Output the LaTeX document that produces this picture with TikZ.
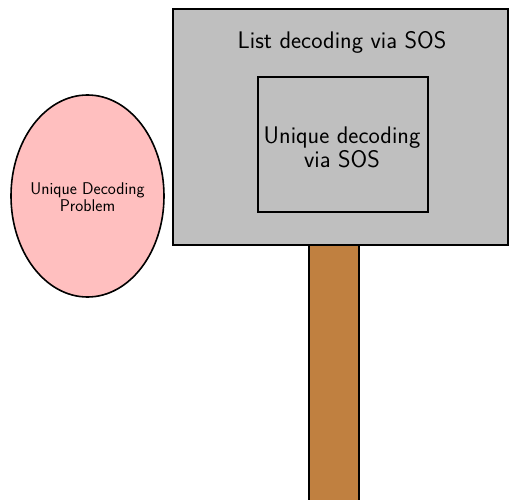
\documentclass[tikz,border=0pt]{standalone}
\usepackage{tikz}
\usetikzlibrary{shapes.geometric}
\tikzset{
  outline/.style={draw=black, line width=1.6pt},
  signboard/.style={outline, fill=lightgray},
  post/.style={outline, fill={rgb,255:red,192;green,128;blue,64}},
  label/.style={font=\sffamily, align=center, inner sep=0pt}
}
\begin{document}
\begin{tikzpicture}[x=1pt, y=-1pt]
  \useasboundingbox (0,0) rectangle (509,500);
  % post under the board
  \path[post] (309,240) rectangle (359,505);
  % board
  \node[signboard, minimum width=335pt, minimum height=236pt, inner sep=0pt] (board) at (340.5,127) {};
  \node[label, font=\sffamily\fontsize{24}{24}\selectfont] (title) at (342,42) {List decoding via SOS};
  \node[outline, minimum width=170pt, minimum height=135pt, inner sep=0pt] (inner) at (343,144.5) {};
  \node[label, font=\sffamily\fontsize{24}{24}\selectfont] (innertext) at (342,147) {Unique decoding\\via SOS};
  % ellipse
  \node[ellipse, outline, fill={rgb,255:red,255;green,191;blue,191}, minimum width=153pt, minimum height=202pt, inner sep=0pt] (problem) at (87.5,196) {};
  \node[label, font=\sffamily\fontsize{17}{17}\selectfont] (problemtext) at (87.5,197) {Unique Decoding\\Problem};
\end{tikzpicture}
\end{document}
